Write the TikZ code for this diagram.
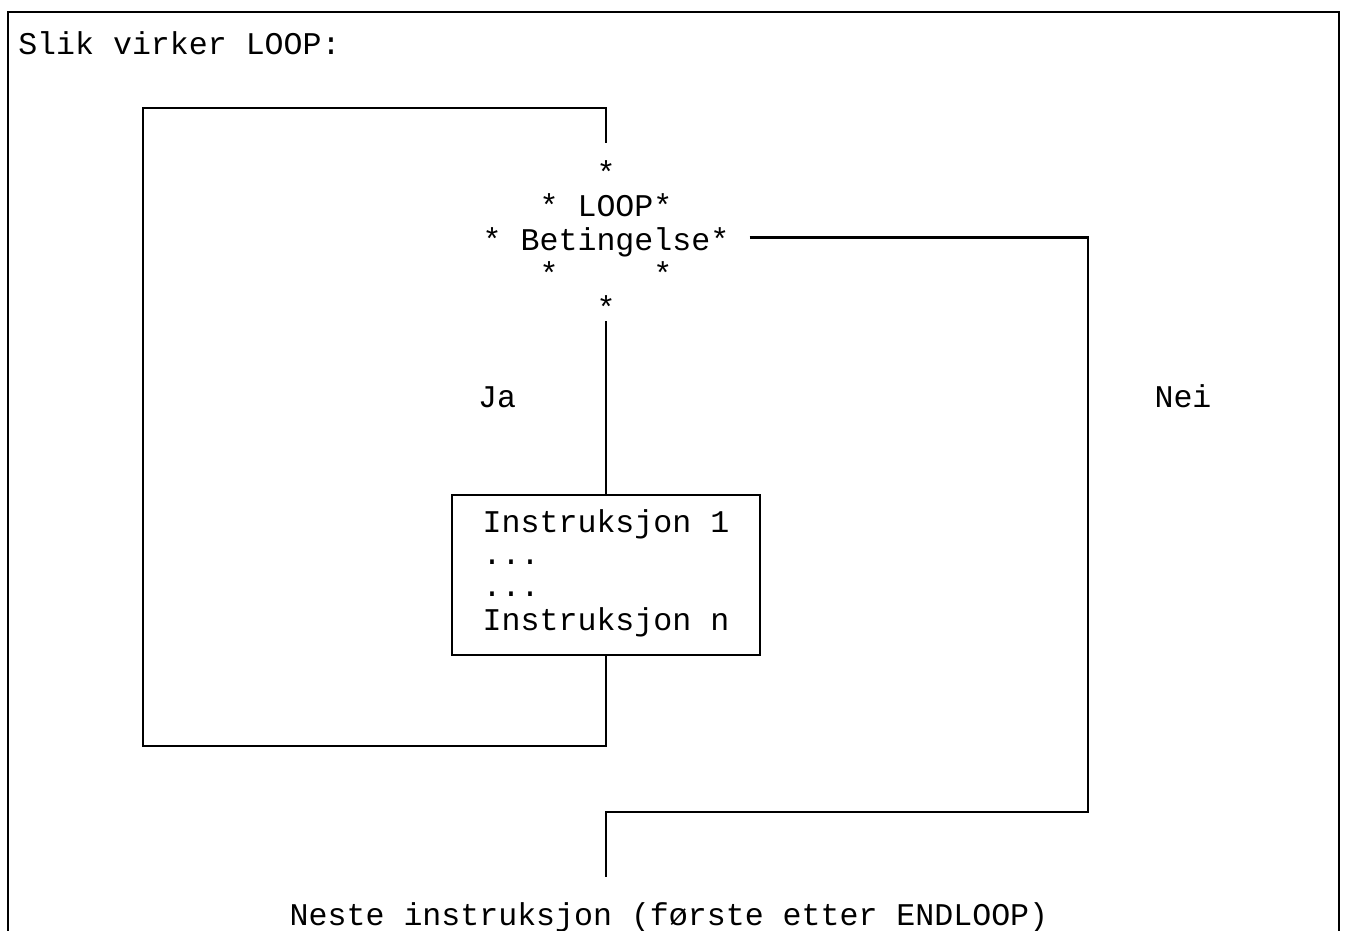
\documentclass[tikz,border=0pt]{standalone}
\usepackage{fontspec}
\setmainfont{Liberation Mono}
\setmonofont{Liberation Mono}
\usetikzlibrary{calc}
\tikzset{
  txt/.style={inner sep=0pt, font=\fontsize{23.7}{24}\selectfont},
  wire/.style={line width=1.9pt, line join=miter},
  frame/.style={line width=1.5pt}
}
\begin{document}
\begin{tikzpicture}[x=0.75pt,y=-0.75pt]
\useasboundingbox (0,0) rectangle (1346,931);
% outer frame (open at the bottom)
\draw[frame] (8,931) -- (8,12) -- (1339,12) -- (1339,931);
% title
\node[txt, anchor=base west] (title) at (18,55) {Slik virker LOOP:};
% condition
\node[txt, align=center, inner xsep=15pt, inner ysep=0pt] (cond) at (606,244)
  {\strut*\\\strut*\ LOOP*\\\strut*\ Betingelse*\\\strut*\ \ \ \ \ *\\\strut*};
% body
\node[txt, draw, wire, minimum width=231pt, minimum height=120pt,
      align=left] (body) at (606,575)
  {\strut Instruksjon\ 1\\\strut...\\\strut...\\\strut Instruksjon\ n};
% labels
\node[txt, anchor=base] (ja) at (497,407) {Ja};
\node[txt, anchor=base] (nei) at (1183,407) {Nei};
\node[txt, anchor=base] (next) at (669,925) {Neste instruksjon (første etter ENDLOOP)};
% helper coordinates
\coordinate (ctop) at ($(cond.north)+(0,12.5pt)$);
\coordinate (lb) at (143,746);
\coordinate (lt) at (143,108);
\coordinate (rb) at (1088,812);
\coordinate (nx) at ($(next.north -| body.south)+(0,19pt)$);
% connectors
\draw[wire] (body.south) |- (lb) -- (lt) -| (ctop);
\draw[wire] ([yshift=5pt]cond.south) -- (body.north);
\draw[wire] ([yshift=5pt]cond.east) -| (rb) -| (nx);
\end{tikzpicture}
\end{document}
